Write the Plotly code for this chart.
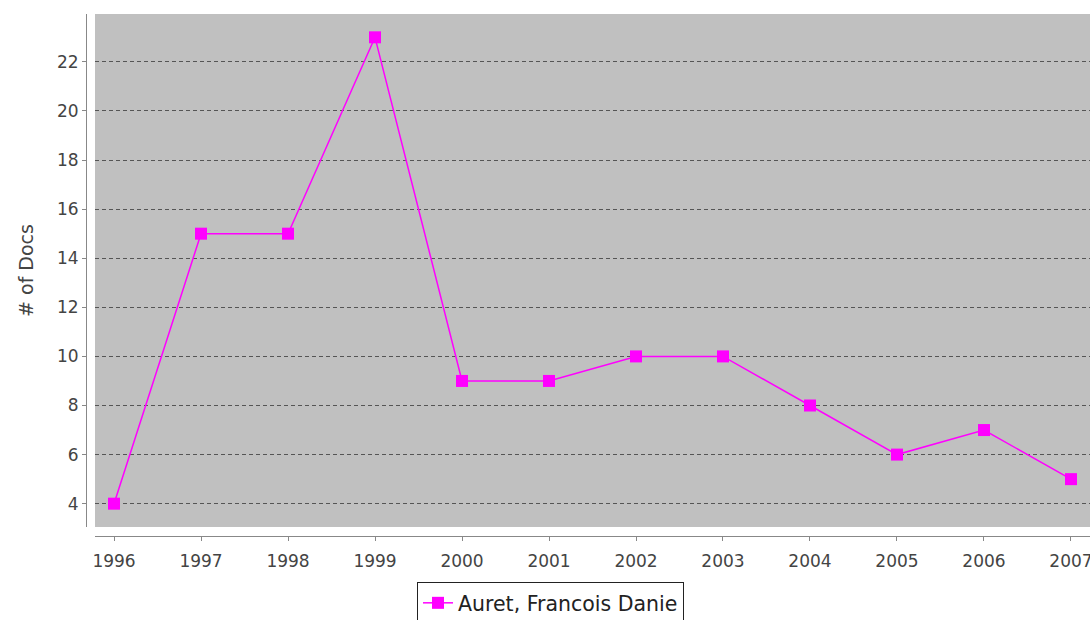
import plotly.graph_objects as go

years = [1996, 1997, 1998, 1999, 2000, 2001, 2002, 2003, 2004, 2005, 2006, 2007]
docs = [4, 15, 15, 23, 9, 9, 10, 10, 8, 6, 7, 5]
series_name = "Auret, Francois Danie"
y_ticks = [4, 6, 8, 10, 12, 14, 16, 18, 20, 22]

W, H = 1090, 620
ml, mr, mt, mb = 86, 0, 14, 84
pw = W - ml - mr
ph = H - mt - mb
x0_dom = (95 - ml) / pw
y0_dom = (536 - 527) / ph

font = "DejaVu Sans"
tick_col = "#444444"
axis_col = "#888888"

fig = go.Figure()
fig.add_trace(go.Scatter(
    x=years, y=docs, name=series_name, mode="lines+markers",
    line=dict(color="#FF00FF", width=1.5),
    marker=dict(symbol="square", size=12, color="#FF00FF"),
))

fig.update_layout(
    width=W, height=H,
    margin=dict(l=ml, r=mr, t=mt, b=mb, autoexpand=False),
    paper_bgcolor="white",
    plot_bgcolor="#C0C0C0",
    showlegend=True,
    legend=dict(
        x=(417 - ml) / pw, y=(536 - 582) / ph, xanchor="left", yanchor="top",
        bordercolor="#222222", borderwidth=1, bgcolor="white",
        font=dict(family=font, size=20.5, color="#222222"),
    ),
    xaxis=dict(
        domain=[x0_dom, 1],
        range=[1996 - 19 / 86.9, 2007 + 19 / 86.9],
        anchor="free", position=0,
        tickmode="array", tickvals=years, ticktext=[str(y) for y in years],
        showgrid=False, zeroline=False, automargin=False,
        showline=True, linecolor=axis_col, linewidth=1,
        ticks="outside", ticklen=4, tickcolor=axis_col,
        ticklabeloverflow="allow", ticklabelstandoff=6,
        tickfont=dict(family=font, size=17, color=tick_col),
    ),
    yaxis=dict(
        domain=[y0_dom, 1],
        range=[3.05, 23.95],
        anchor="free", position=0,
        tickmode="array", tickvals=y_ticks,
        showgrid=True, gridcolor="#555555", gridwidth=1, griddash="4px,3px",
        zeroline=False, automargin=False,
        showline=True, linecolor=axis_col, linewidth=1,
        ticks="outside", ticklen=4, tickcolor=axis_col,
        tickfont=dict(family=font, size=17, color=tick_col),
        title=dict(text="# of Docs", font=dict(family=font, size=19, color=tick_col), standoff=17),
    ),
)

fig.write_html(
    "out.html",
    config={"displayModeBar": False},
    post_script="document.body.style.margin='0';document.body.style.overflow='hidden';",
)
